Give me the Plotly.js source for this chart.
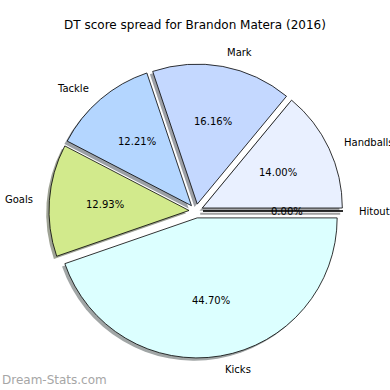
<!DOCTYPE html>
<html>
<head>
<meta charset="utf-8">
<script src="https://cdn.plot.ly/plotly-3.0.1.min.js"></script>
<style>html,body{margin:0;padding:0;background:#fff}#chart{width:390px;height:390px}</style>
</head>
<body>
<div id="chart"></div>
<script>
const labels = ["Hitout", "Handballs", "Mark", "Tackle", "Goals", "Kicks"];
const values = [0.00, 14.00, 16.16, 12.21, 12.93, 44.70];
const colors = ["#f0f0ff", "#e9f0ff", "#c4d8ff", "#b4d6ff", "#d2ea8c", "#dcffff"];
const titleText = "DT score spread for Brandon Matera (2016)";
const watermark = "Dream-Stats.com";

const W = 390, H = 390;
const pull = 0.05;
const cxPx = 196, cyPx = 211, rPx = 140;           // pie centre / radius in pixels
const half = rPx * (1 + pull);
const shadowOff = 0.02 * rPx;

function dom(cx, cy) {
  return {
    x: [(cx - half) / W, (cx + half) / W],
    y: [(H - cy - half) / H, (H - cy + half) / H]
  };
}
function shadeColor(hex) {
  const n = parseInt(hex.slice(1), 16);
  const c = [(n >> 16) & 255, (n >> 8) & 255, n & 255].map(v => Math.round(0.5 * 0.3 * v + 0.5 * 255));
  return `rgb(${c[0]},${c[1]},${c[2]})`;
}

const total = values.reduce((a, b) => a + b, 0);
const annotations = [];
const shapes = [];
let cum = 0;
values.forEach((v, i) => {
  const frac = v / total;
  const mid = (cum + frac / 2) * 2 * Math.PI;
  cum += frac;
  const pcx = cxPx + pull * rPx * Math.cos(mid);
  const pcy = cyPx - pull * rPx * Math.sin(mid);
  const lx = pcx + 1.1 * rPx * Math.cos(mid);
  const ly = pcy - 1.1 * rPx * Math.sin(mid);
  annotations.push({
    text: labels[i], xref: "paper", yref: "paper",
    x: lx / W, y: 1 - ly / H, showarrow: false,
    xanchor: Math.cos(mid) > 0 ? "left" : "right", yanchor: "middle",
    font: {family: "DejaVu Sans", size: 10, color: "#000"}
  });
  const tx = pcx + 0.6 * rPx * Math.cos(mid);
  const ty = pcy - 0.6 * rPx * Math.sin(mid);
  annotations.push({
    text: (frac * 100).toFixed(2) + "%", xref: "paper", yref: "paper",
    x: tx / W, y: 1 - ty / H, showarrow: false,
    xanchor: "center", yanchor: "middle",
    font: {family: "DejaVu Sans", size: 10, color: "#000"}
  });
  if (v === 0) {
    const ex = pcx + rPx * Math.cos(mid), ey = pcy - rPx * Math.sin(mid);
    shapes.push({type: "line", xref: "paper", yref: "paper",
      x0: (pcx - shadowOff) / W, y0: 1 - (pcy + shadowOff) / H,
      x1: (ex - shadowOff) / W, y1: 1 - (ey + shadowOff) / H,
      line: {color: "#a0a0a0", width: 2}, layer: "above"});
    shapes.push({type: "line", xref: "paper", yref: "paper",
      x0: pcx / W, y0: 1 - pcy / H, x1: ex / W, y1: 1 - ey / H,
      line: {color: "#000", width: 1}, layer: "above"});
  }
});

annotations.push({
  text: watermark, xref: "paper", yref: "paper", x: 0, y: 1 - 380 / H,
  xanchor: "left", yanchor: "middle", showarrow: false,
  font: {family: "DejaVu Sans", size: 12, color: "#a6a6a6"}
});

const common = {
  type: "pie", labels: labels, values: values, sort: false,
  direction: "counterclockwise", rotation: 90,
  pull: values.map(() => pull), textinfo: "none", hoverinfo: "skip",
  showlegend: false
};
const shadow = Object.assign({}, common, {
  domain: dom(cxPx - shadowOff, cyPx + shadowOff),
  marker: {colors: colors.map(shadeColor), line: {width: 0}}
});
const main = Object.assign({}, common, {
  domain: dom(cxPx, cyPx),
  marker: {colors: colors, line: {color: "#000", width: 0.8}}
});

Plotly.newPlot("chart", [shadow, main], {
  width: W, height: H,
  margin: {l: 0, r: 0, t: 0, b: 0},
  paper_bgcolor: "#fff",
  title: {text: titleText, x: 0.5, xanchor: "center", y: 1 - 25 / H, yref: "container", yanchor: "middle",
          font: {family: "DejaVu Sans", size: 12, color: "#000"}},
  annotations: annotations,
  shapes: shapes
}, {staticPlot: true});
</script>
</body>
</html>
